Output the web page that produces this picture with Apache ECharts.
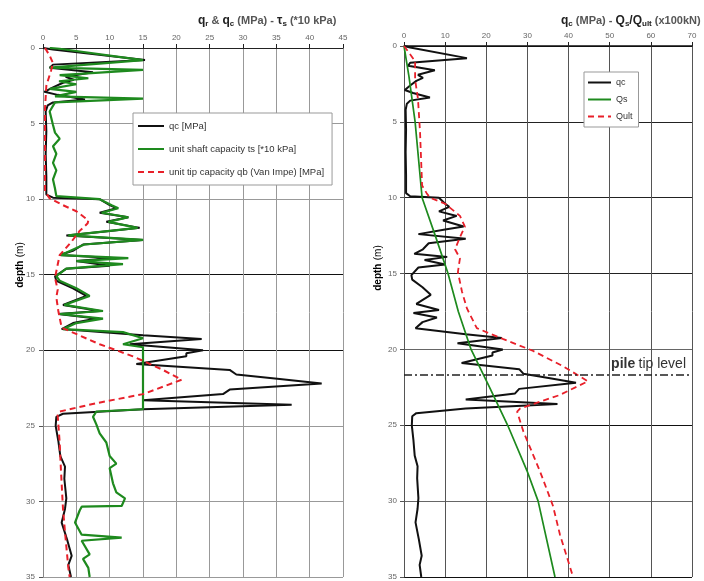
<!DOCTYPE html>
<html>
<head>
<meta charset="utf-8">
<script src="https://cdn.jsdelivr.net/npm/echarts@6/dist/echarts.min.js"></script>
<style>
  html, body { margin: 0; padding: 0; background: #fff; }
  #cpt { width: 704px; height: 581px; }
</style>
</head>
<body>
<div id="cpt"></div>
<script>
// cone resistance qc [MPa] (shared by both plots)
var qcDepth = [0, 0.1, 0.8, 1.1, 1.3, 1.6, 1.9, 2.1, 2.3, 2.6, 2.9, 3.1, 3.4, 3.6, 3.8, 4.2, 5.5, 7, 8.5, 9.7, 9.9,
    10.0, 10.4, 10.6, 10.9, 11.2, 11.5, 11.9, 12.1, 12.4, 12.7, 13.0, 13.4, 13.7, 13.9, 14.1, 14.4, 14.6, 15.1, 15.4, 15.9,
    16.4, 17.0, 17.4, 17.6, 17.9, 18.2, 18.6, 19.0, 19.25, 19.6, 20.0, 20.2, 20.4, 20.9, 21.3, 21.6, 21.9, 22.2, 22.6,
    22.9, 23.3, 23.6, 23.9, 24.2, 24.4, 25, 26, 27, 27.7, 28.5, 29.8, 30.5, 31.4, 32.5, 33.6, 34.2, 35];
var qcVal = [0, 1.5, 15.3, 1.5, 1.0, 7.5, 3.4, 4.6, 3.0, 1.5, 0.2, 2.2, 6.3, 1.5, 0.7, 0.4, 0.5, 0.4, 0.5, 0.5, 1.5,
    8.5, 10, 11, 8.5, 12.8, 9.5, 14.5, 10, 3.5, 15, 6, 4.6, 2.5, 10.5, 5, 10, 3.5, 1.8, 2.0, 4.5,
    6.5, 3, 8.5, 2.3, 8, 4.5, 2.8, 15, 23.8, 13, 24, 21.5, 21.5, 14, 28, 29, 35.5, 41.8, 28,
    27, 15, 37.3, 15, 3, 2, 1.9, 2.3, 2.6, 3.3, 3.2, 3.5, 3.3, 2.8, 3.6, 4.3, 3.8, 4.2];

// unit shaft capacity ts [*10 kPa]
var tsDepth = [0, 0.05, 0.8, 1.3, 1.45, 1.8, 2.0, 2.2, 2.4, 2.7, 2.9, 3.2, 3.35, 3.6, 4.2, 5.1, 5.6, 6.0, 6.5, 7.0, 7.6,
    8.1, 8.7, 9.3, 9.8, 10.0, 10.4, 10.6, 10.9, 11.2, 11.5, 11.9, 12.1, 12.4, 12.7, 13.0, 13.7, 13.9, 14.1, 14.3, 14.6,
    15.1, 15.4, 15.9, 16.4, 17.0, 17.4, 17.6, 17.9, 18.2, 18.6, 18.8, 19.2, 19.6, 19.8, 23.9, 24.05, 24.4, 24.9, 25.5,
    26.1, 27, 27.5, 27.8, 28.8, 29.4, 29.8, 30.3, 30.35, 30.6, 31.4, 32.2, 32.4, 32.6, 33.5, 33.8, 34.4, 35];
var tsVal = [1, 2.5, 15, 1, 15, 2.5, 6.8, 2.4, 5, 1, 5, 1.8, 15, 1.8, 1, 1.5, 1.8, 2.5, 1.5, 2, 1.5,
    2, 1.5, 1.8, 2, 8.5, 10.3, 11.3, 8.8, 12.8, 9.8, 14.2, 10, 3.8, 15, 6.2, 2.7, 12.8, 5, 12, 3.5,
    2, 2.5, 5, 7, 3.2, 9, 2.5, 9, 5, 3, 12, 15, 12, 15, 15, 8, 7.5, 8, 8.5,
    9.5, 10, 11, 10, 10.5, 11, 12.3, 11.8, 5.8, 5.5, 4.8, 5.8, 11.8, 5.8, 7, 6, 6.8, 7];

// unit tip capacity qb (Van Impe) [MPa]
var qbDepth = [0, 0.5, 1.0, 1.5, 2.5, 4, 9.5, 9.95, 10.4, 10.8, 11.4, 11.6, 12.1, 12.8, 13.7, 15.2, 16.0, 16.5, 17.4,
    18.5, 19.6, 20.4, 21.3, 21.95, 22.9, 23.5, 24.05, 24.3, 26.1, 28, 30.5, 32.5, 34.4, 35];
var qbVal = [0.3, 1.0, 1.5, 1.2, 0.5, 0.3, 0.3, 1.0, 3, 5, 6.8, 6.7, 5.5, 4.3, 2.5, 1.8, 2.2, 2.0, 2.3,
    2.8, 8.5, 13.5, 18, 20.8, 15, 8, 2.5, 2.2, 2.5, 2.7, 3, 3.4, 3.8, 4];

// Qs and Qult [x100 kN]
var qsDepth = [0, 2, 5, 10, 12.5, 15, 17.5, 20, 22.5, 25, 28, 30, 35];
var qsVal = [0, 1.2, 2.7, 4.4, 7.6, 10.7, 13.2, 16.3, 20.8, 25.2, 29.9, 32.6, 36.7];
var qultDepth = [0, 1, 2.2, 3.5, 5.7, 9.2, 9.7, 10, 10.4, 11.2, 11.9, 12.6, 13.4, 14, 14.9, 16.2, 17.3, 18.6, 19.3,
    20.1, 21.1, 22.1, 23, 23.6, 23.9, 24.1, 25.4, 28, 30.3, 32.2, 35];
var qultVal = [0, 2.7, 2.7, 3.4, 3.9, 4.4, 5.5, 6.3, 10, 13.6, 14.8, 13.6, 12.4, 13.6, 13.1, 14.1, 15.3, 17.7, 24,
    31.4, 38.6, 44.7, 37.9, 31.4, 28.2, 27.5, 29, 33, 36.2, 37.9, 41.1];

var pileTipDepth = 21.65;

function pairs(vals, depths) {
    var out = [];
    for (var i = 0; i < vals.length; i++) {
        out.push([vals[i], depths[i]]);
    }
    return out;
}

var chart = echarts.init(document.getElementById('cpt'));

var labelStyle = { fontSize: 8, color: '#666', fontFamily: 'Liberation Sans' };
var titleRich = {
    b: { fontSize: 12, fontWeight: 'bold', color: '#222', fontFamily: 'Liberation Sans' },
    s: { fontSize: 8, fontWeight: 'bold', color: '#222', verticalAlign: 'bottom', padding: [6, 0, 0, 0], fontFamily: 'Liberation Sans' },
    n: { fontSize: 11, color: '#555', fontFamily: 'Liberation Sans' }
};
var depthRich = {
    b: { fontSize: 10, fontWeight: 'bold', color: '#333', fontFamily: 'Liberation Sans' },
    n: { fontSize: 10, color: '#555', fontFamily: 'Liberation Sans' }
};

var option = {
    animation: false,
    backgroundColor: '#fff',
    title: [{
        text: '{b|q}{s|r}{n| & }{b|q}{s|c}{n| (MPa) - }{b|τ}{s|s}{n| (*10 kPa)}',
        left: 193, top: 9,
        textStyle: { rich: titleRich }
    }, {
        text: '{b|q}{s|c}{n| (MPa) - }{b|Q}{s|s}{b|/Q}{s|ult}{n| (x100kN)}',
        left: 556, top: 9,
        textStyle: { rich: titleRich }
    }],
    graphic: [{
        type: 'text', x: 20, y: 265, rotation: Math.PI / 2,
        style: { text: '{b|depth} {n|(m)}', rich: depthRich, align: 'center', verticalAlign: 'middle' }
    }, {
        type: 'text', x: 378, y: 268, rotation: Math.PI / 2,
        style: { text: '{b|depth} {n|(m)}', rich: depthRich, align: 'center', verticalAlign: 'middle' }
    }],
    legend: [{
        data: ['qc [MPa]', 'unit shaft capacity ts [*10 kPa]', 'unit tip capacity qb (Van Impe) [MPa]'],
        orient: 'vertical', left: 133, top: 113,
        itemWidth: 26, itemHeight: 8, itemGap: 13,
        padding: [8, 8, 8, 4],
        itemStyle: { opacity: 0 },
        borderColor: '#999', borderWidth: 1, backgroundColor: '#fff',
        textStyle: { fontSize: 9.5, color: '#333', fontFamily: 'Liberation Sans' }
    }, {
        data: ['qc', 'Qs', 'Qult'],
        orient: 'vertical', left: 584, top: 72,
        itemWidth: 23, itemHeight: 8, itemGap: 8,
        padding: [6, 6, 6, 3],
        itemStyle: { opacity: 0 },
        borderColor: '#999', borderWidth: 1, backgroundColor: '#fff',
        textStyle: { fontSize: 9, color: '#333', fontFamily: 'Liberation Sans' }
    }],
    grid: [
        { left: 43, top: 48, width: 300, height: 534 },
        { left: 404, top: 46, width: 288, height: 533 }
    ],
    xAxis: [{
        gridIndex: 0, type: 'value', position: 'top', min: 0, max: 45, interval: 5,
        axisLine: { lineStyle: { color: '#222' } },
        axisTick: { length: 4, lineStyle: { color: '#222' } },
        axisLabel: Object.assign({ margin: 6 }, labelStyle),
        splitLine: { lineStyle: { color: '#999' } }
    }, {
        gridIndex: 1, type: 'value', position: 'top', min: 0, max: 70, interval: 10,
        axisLine: { lineStyle: { color: '#111', width: 1.5 } },
        axisTick: { length: 4, lineStyle: { color: '#222' } },
        axisLabel: Object.assign({ margin: 6 }, labelStyle),
        splitLine: { lineStyle: { color: '#555' } }
    }],
    yAxis: [{
        gridIndex: 0, type: 'value', inverse: true, min: 0, max: 35, interval: 5,
        axisLine: { lineStyle: { color: '#888' } },
        axisTick: { length: 4, lineStyle: { color: '#555' } },
        axisLabel: Object.assign({ margin: 8 }, labelStyle),
        splitLine: { lineStyle: { color: ['#222', '#999', '#999', '#111', '#111', '#999', '#999', '#999'] } }
    }, {
        gridIndex: 1, type: 'value', inverse: true, min: 0, max: 35, interval: 5,
        axisLine: { lineStyle: { color: '#555' } },
        axisTick: { length: 4, lineStyle: { color: '#555' } },
        axisLabel: Object.assign({ margin: 7 }, labelStyle),
        splitLine: { lineStyle: { color: ['#111', '#222', '#222', '#222', '#666', '#111', '#666', '#111'] } }
    }],
    series: [{
        name: 'qc [MPa]', type: 'line', xAxisIndex: 0, yAxisIndex: 0,
        showSymbol: false, symbol: 'none', color: '#111',
        lineStyle: { width: 2, color: '#111' },
        data: pairs(qcVal, qcDepth)
    }, {
        name: 'unit shaft capacity ts [*10 kPa]', type: 'line', xAxisIndex: 0, yAxisIndex: 0,
        showSymbol: false, symbol: 'none', color: '#1e8a1e',
        lineStyle: { width: 2.2, color: '#1e8a1e' },
        data: pairs(tsVal, tsDepth)
    }, {
        name: 'unit tip capacity qb (Van Impe) [MPa]', type: 'line', xAxisIndex: 0, yAxisIndex: 0,
        showSymbol: false, symbol: 'none', color: '#e8202a',
        lineStyle: { width: 2, color: '#e8202a', type: [6, 4] },
        data: pairs(qbVal, qbDepth)
    }, {
        name: 'qc', type: 'line', xAxisIndex: 1, yAxisIndex: 1,
        showSymbol: false, symbol: 'none', color: '#111',
        lineStyle: { width: 2, color: '#111' },
        data: pairs(qcVal, qcDepth)
    }, {
        name: 'Qs', type: 'line', xAxisIndex: 1, yAxisIndex: 1,
        showSymbol: false, symbol: 'none', color: '#1e8a1e',
        lineStyle: { width: 1.7, color: '#1e8a1e' },
        data: pairs(qsVal, qsDepth)
    }, {
        name: 'Qult', type: 'line', xAxisIndex: 1, yAxisIndex: 1,
        showSymbol: false, symbol: 'none', color: '#e8202a',
        lineStyle: { width: 1.8, color: '#e8202a', type: [6, 4] },
        data: pairs(qultVal, qultDepth),
        markLine: {
            silent: true, symbol: 'none',
            lineStyle: { color: '#222', width: 1.5, type: [8, 3, 2, 3] },
            label: {
                show: true, position: 'insideEndTop', distance: [6, 3],
                formatter: '{b|pile} {n|tip level}',
                rich: {
                    b: { fontSize: 14, fontWeight: 'bold', color: '#333', fontFamily: 'Liberation Sans' },
                    n: { fontSize: 14, color: '#333', fontFamily: 'Liberation Sans' }
                }
            },
            data: [{ yAxis: pileTipDepth }]
        }
    }]
};

chart.setOption(option);
</script>
</body>
</html>
